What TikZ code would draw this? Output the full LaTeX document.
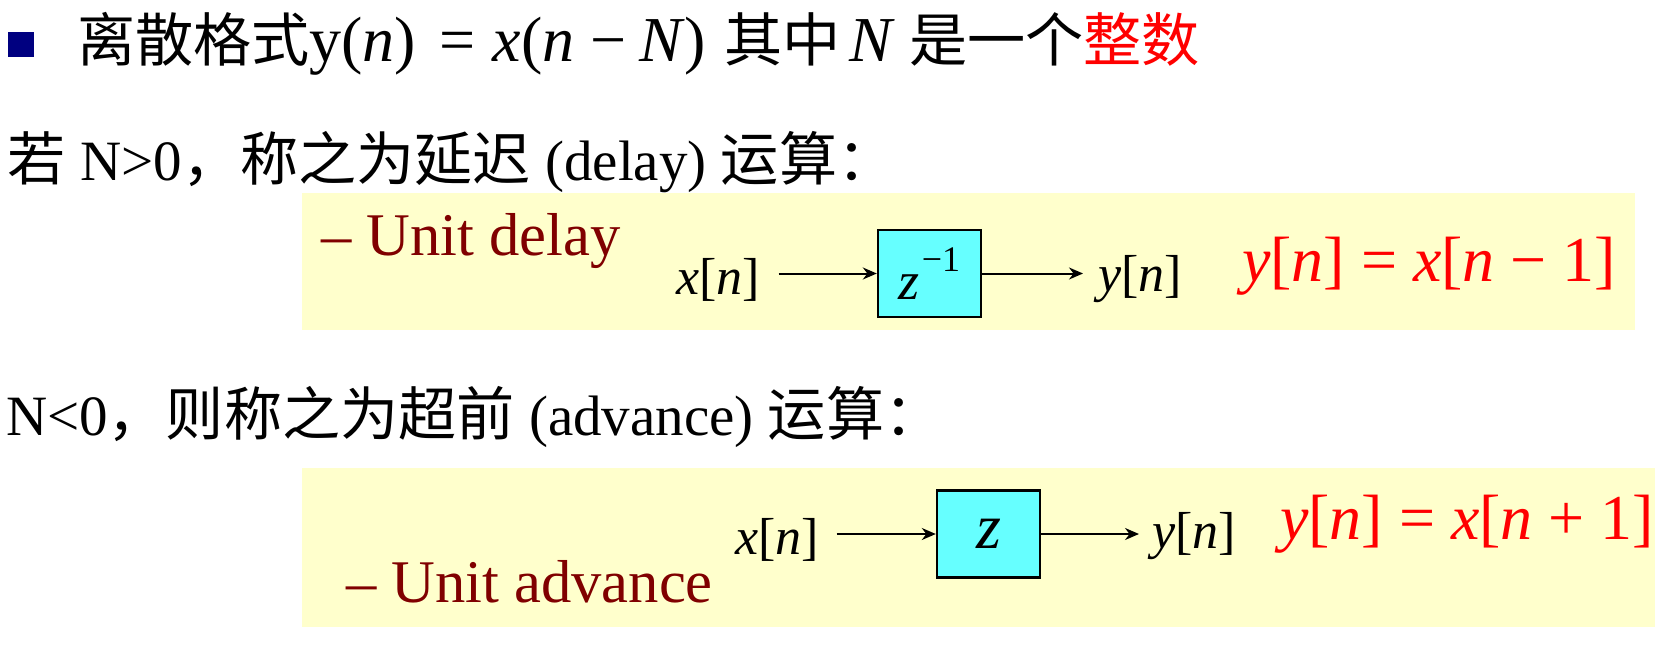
\documentclass[tikz,border=0pt]{standalone}
\usepackage{fontspec}
\setmainfont{Liberation Serif}
\newfontfamily\cjk[Scale=1.02]{Noto Sans CJK SC}
\usetikzlibrary{arrows.meta,positioning}
\definecolor{paleyellow}{RGB}{255,255,204}
\definecolor{boxcyan}{RGB}{102,255,255}
\definecolor{darkred}{RGB}{128,0,0}
\definecolor{navy}{RGB}{0,0,128}

\begin{document}
\begin{tikzpicture}[->,>={Stealth[length=7pt,width=6pt]},x=0.5pt,y=-0.5pt,line width=1pt]
  \tikzstyle{ctext}=[inner sep=0pt,anchor=base west,font=\fontsize{28.5}{32}\selectfont]
  \tikzstyle{utext}=[inner sep=0pt,anchor=base west,text=darkred,font=\fontsize{30.3}{34}\selectfont]
  \tikzstyle{sig}=[inner sep=0pt,anchor=base west,font=\fontsize{26}{30}\selectfont]
  \tikzstyle{eqn}=[inner sep=0pt,anchor=base west,text=red,font=\fontsize{32}{36}\selectfont]
  \tikzstyle{blk}=[draw=black,fill=boxcyan,line width=1.2pt,minimum width=51.5pt,minimum height=43.5pt,inner sep=0pt]

  \useasboundingbox (0,0) rectangle (1664,647);
  \fill[paleyellow] (302,193) rectangle (1635,330);
  \fill[paleyellow] (302,468) rectangle (1655,627);
  \fill[navy] (8,32) rectangle (34,57);

  \node[ctext] (title) at (76,62) {{\cjk 离散格式}{\fontsize{32}{36}\selectfont y(\textit{n})\hspace{0.36em}=\hspace{0.27em}\textit{x}(\textit{n}\hspace{0.25em}−\hspace{0.2em}\textit{N})}\hspace{9pt}{\cjk 其中}\hspace{4.5pt}{\fontsize{32}{36}\selectfont\textit{N}}\hspace{7pt}{\cjk 是一个\textcolor{red}{整数}}};
  \node[ctext] (ifpos) at (7,180) {{\cjk 若} N>0{\cjk ，称之为延迟} (delay) {\cjk 运算：}};
  \node[ctext] (ifneg) at (5,435) {N<0{\cjk ，则称之为超前} (advance) {\cjk 运算：}};

  \node[utext] (udelay) at (320,255) {– Unit delay};
  \node[utext] (uadv)   at (345,602) {– Unit advance};

  % unit delay
  \node[sig] (x1) at (675,294) {\textit{x}[\textit{n}]};
  \node[blk] (d1) at (929.5,273.5) {{\fontsize{27}{27}\selectfont\textit{z}}\kern1pt\raisebox{14pt}{\fontsize{18}{18}\selectfont −1}};
  \node[sig] (y1) at (1097,291) {\textit{y}[\textit{n}]};
  \node[eqn] (f1) at (1241,281) {\textit{y}[\textit{n}] = \textit{x}[\textit{n} − 1]};

  % unit advance
  \node[sig] (x2) at (734,554) {\textit{x}[\textit{n}]};
  \node[blk] (a1) at (988.5,534) {{\fontsize{32}{32}\selectfont\textit{z}}};
  \node[sig] (y2) at (1151,548) {\textit{y}[\textit{n}]};
  \node[eqn] (f2) at (1279,539) {\textit{y}[\textit{n}] = \textit{x}[\textit{n} + 1]};

  \draw[shorten <=9pt] (x1.east |- d1.west) -- (d1.west);
  \draw[shorten >=7pt] (d1.east) -- (y1.west |- d1.east);
  \draw[shorten <=8.5pt] (x2.east |- a1.west) -- (a1.west);
  \draw[shorten >=6pt] (a1.east) -- (y2.west |- a1.east);
\end{tikzpicture}
\end{document}
